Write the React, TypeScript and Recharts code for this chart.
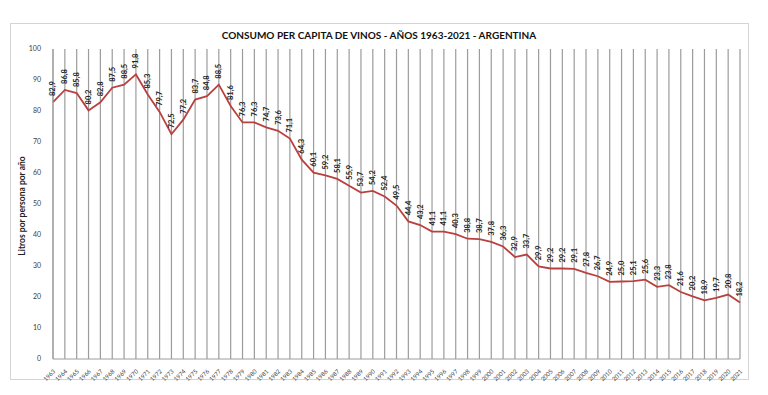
import React from 'react';
import { LineChart, Line, XAxis, YAxis, CartesianGrid, LabelList } from 'recharts';

const years: string[] = [
  '1963','1964','1965','1966','1967','1968','1969','1970','1971','1972',
  '1973','1974','1975','1976','1977','1978','1979','1980','1981','1982',
  '1983','1984','1985','1986','1987','1988','1989','1990','1991','1992',
  '1993','1994','1995','1996','1997','1998','1999','2000','2001','2002',
  '2003','2004','2005','2006','2007','2008','2009','2010','2011','2012',
  '2013','2014','2015','2016','2017','2018','2019','2020','2021',
];

const consumo: number[] = [
  82.9, 86.8, 85.8, 80.2, 82.8, 87.5, 88.5, 91.8, 85.3, 79.7,
  72.5, 77.2, 83.7, 84.8, 88.5, 81.6, 76.3, 76.3, 74.7, 73.6,
  71.1, 64.3, 60.1, 59.2, 58.1, 55.9, 53.7, 54.2, 52.4, 49.5,
  44.4, 43.2, 41.1, 41.1, 40.3, 38.8, 38.7, 37.8, 36.3, 32.9,
  33.7, 29.9, 29.2, 29.2, 29.1, 27.8, 26.7, 24.9, 25.0, 25.1,
  25.6, 23.3, 23.8, 21.6, 20.2, 18.9, 19.7, 20.8, 18.2,
];

const yTicks: number[] = [0, 10, 20, 30, 40, 50, 60, 70, 80, 90, 100];

const data = years.map((y, i) => ({ year: y, value: consumo[i] }));

const FONT = 'Lato, "Open Sans", sans-serif';

const ValueLabel = (props: any) => {
  const vb = props.viewBox || {};
  let x = Number(props.x);
  let y = Number(props.y);
  if (!isFinite(x)) x = Number(vb.x) + (Number(vb.width) || 0) / 2;
  if (!isFinite(y)) y = Number(vb.y);
  const ty = y - 6;
  return (
    <text
      x={x}
      y={ty}
      transform={`rotate(-90 ${x} ${ty})`}
      textAnchor="start"
      dominantBaseline="central"
      fontFamily={FONT}
      fontSize={7.5}
      fontWeight={700}
      fill="#222"
    >
      {Number(props.value).toFixed(1).replace('.', ',')}
    </text>
  );
};

const XTick = (props: any) => {
  const x = Number(props.x) + 1;
  const y = Number(props.y) + 3;
  return (
    <text
      x={x}
      y={y}
      transform={`rotate(-45 ${x} ${y})`}
      textAnchor="end"
      dominantBaseline="central"
      fontFamily={FONT}
      fontSize={6}
      fill="#404040"
    >
      {props.payload.value}
    </text>
  );
};

export default function App() {
  return (
    <div style={{ position: 'absolute', left: 0, top: 0, width: 768, height: 395, background: '#fff' }}>
      <div
        style={{
          position: 'absolute',
          left: 10,
          top: 23,
          width: 739,
          height: 357,
          border: '1px solid #d4d4d4',
          boxSizing: 'border-box',
        }}
      />
      <div
        style={{
          position: 'absolute',
          left: 0,
          width: 758,
          top: 28,
          textAlign: 'center',
          fontFamily: FONT,
          fontWeight: 700,
          fontSize: 10,
          color: '#111',
          lineHeight: '14px',
        }}
      >
        CONSUMO PER CAPITA DE VINOS - AÑOS 1963-2021 - ARGENTINA
      </div>
      <div
        style={{
          position: 'absolute',
          left: 22,
          top: 206,
          transform: 'translate(-50%, -50%) rotate(-90deg)',
          fontFamily: FONT,
          fontWeight: 700,
          fontSize: 8.5,
          color: '#222',
          whiteSpace: 'nowrap',
        }}
      >
        Litros por persona por año
      </div>
      <div style={{ position: 'absolute', left: 0, top: 0 }}>
        <LineChart
          width={768}
          height={395}
          data={data}
          margin={{ top: 49, right: 28, bottom: 0, left: 0 }}
        >
          <CartesianGrid horizontal={false} stroke="#9c9c9c" strokeWidth={1.2} />
          <XAxis
            dataKey="year"
            interval={0}
            height={36}
            axisLine={{ stroke: '#9c9c9c' }}
            tickLine={false}
            tick={XTick}
          />
          <YAxis
            width={53}
            domain={[0, 100]}
            ticks={yTicks}
            interval={0}
            axisLine={{ stroke: '#9c9c9c' }}
            tickLine={false}
            tick={{ fontFamily: FONT, fontSize: 7, fill: '#404040' }}
            tickMargin={6}
          />
          <Line
            type="linear"
            dataKey="value"
            stroke="#b9403e"
            strokeWidth={1.8}
            dot={false}
            isAnimationActive={false}
          >
            <LabelList dataKey="value" content={ValueLabel} />
          </Line>
        </LineChart>
      </div>
    </div>
  );
}
